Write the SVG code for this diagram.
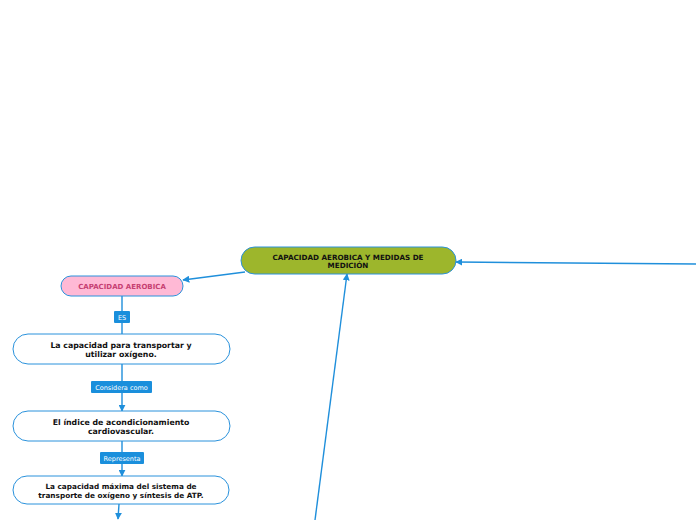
<svg xmlns="http://www.w3.org/2000/svg" width="696" height="520" viewBox="0 0 696 520">
<defs>
<marker id="ah" viewBox="0 0 10 10" refX="9" refY="5" markerWidth="7" markerHeight="7" markerUnits="userSpaceOnUse" orient="auto">
<path d="M0,0 L10,5 L0,10 Z" fill="#1f8fdb"/>
</marker>
<style>
.ln{stroke:#1f8fdb;stroke-width:1.4;fill:none}
.nd{fill:#ffffff;stroke:#2a92dc;stroke-width:1}
.t{font-family:"DejaVu Sans",Verdana,sans-serif;font-weight:bold;text-anchor:middle;fill:#111}
.lb{fill:#1a8fdc}
.lt{font-family:"DejaVu Sans",Verdana,sans-serif;font-size:6.5px;fill:#ffffff;text-anchor:middle}
</style>
</defs>
<rect width="696" height="520" fill="#ffffff"/>
<g id="connectors">
<line class="ln" x1="245" y1="272" x2="183" y2="280" marker-end="url(#ah)"/>
<line class="ln" x1="122" y1="296" x2="122" y2="334"/>
<line class="ln" x1="122" y1="364" x2="122" y2="411" marker-end="url(#ah)"/>
<line class="ln" x1="122" y1="441" x2="122" y2="476" marker-end="url(#ah)"/>
<line class="ln" x1="119" y1="504" x2="118" y2="519" marker-end="url(#ah)"/>
<line class="ln" x1="696" y1="264" x2="456" y2="262" marker-end="url(#ah)"/>
<line class="ln" x1="315" y1="520" x2="347" y2="274" marker-end="url(#ah)"/>
</g>
<g id="root">
<rect x="241" y="247" width="215" height="27" rx="13.5" fill="#9db62c" stroke="#2a92dc" stroke-width="1"/>
<text class="t" font-size="7.2" x="348" y="259.5">CAPACIDAD AEROBICA Y MEDIDAS DE</text>
<text class="t" font-size="7.2" x="348" y="268">MEDICIÓN</text>
</g>
<g id="n1">
<rect x="61" y="276" width="122" height="20" rx="10" fill="#ffb9d5" stroke="#2a92dc" stroke-width="1"/>
<text class="t" font-size="7" x="122" y="288.5" style="fill:#c63f72">CAPACIDAD AEROBICA</text>
</g>
<g id="l1">
<rect class="lb" x="114" y="311" width="16" height="12" rx="1"/>
<text class="lt" x="122" y="319.5">ES</text>
</g>
<g id="n2">
<rect class="nd" x="13" y="334" width="217" height="30" rx="15"/>
<text class="t" font-size="7.8" x="121" y="347.5">La capacidad para transportar y</text>
<text class="t" font-size="7.8" x="121" y="357">utilizar oxígeno.</text>
</g>
<g id="l2">
<rect class="lb" x="91" y="381" width="61" height="12" rx="1"/>
<text class="lt" x="121.5" y="389.5">Considera como</text>
</g>
<g id="n3">
<rect class="nd" x="13" y="411" width="217" height="30" rx="15"/>
<text class="t" font-size="7.8" x="121" y="424.5">El índice de acondicionamiento</text>
<text class="t" font-size="7.8" x="121" y="434">cardiovascular.</text>
</g>
<g id="l3">
<rect class="lb" x="100" y="452" width="44" height="12" rx="1"/>
<text class="lt" x="122" y="460.5">Representa</text>
</g>
<g id="n4">
<rect class="nd" x="13" y="476" width="216" height="28" rx="14"/>
<text class="t" font-size="7.3" x="121" y="488.5">La capacidad máxima del sistema de</text>
<text class="t" font-size="7.3" x="121" y="498">transporte de oxígeno y síntesis de ATP.</text>
</g>
</svg>
